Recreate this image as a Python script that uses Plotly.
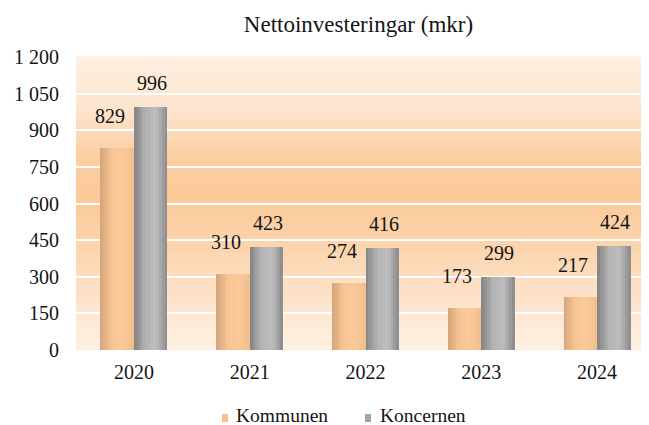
import plotly.graph_objects as go

years = ["2020", "2021", "2022", "2023", "2024"]
kommunen = [829, 310, 274, 173, 217]
koncernen = [996, 423, 416, 299, 424]
y_ticks = [0, 150, 300, 450, 600, 750, 900, 1050, 1200]

FONT = "Liberation Serif, DejaVu Serif, serif"
TXT = "#141414"

FIG_W, FIG_H = 649, 425
ML, MR, MT, MB = 68, 2, 49, 83
PW = FIG_W - ML - MR
PH = FIG_H - MT - MB


def px_x(fx):
    return (fx - ML) / PW


def px_y(fy):
    return (FIG_H - MB - fy) / PH


def lerp(c1, c2, t):
    return tuple(int(round(a + (b - a) * t)) for a, b in zip(c1, c2))


def rgb(c):
    return "rgb(%d,%d,%d)" % c


fig = go.Figure()

N = 12
W = 0.29
series = [
    dict(name="Kommunen", vals=kommunen, off=-W,
         stops=[(212, 164, 121), (246, 196, 148), (253, 203, 153), (240, 188, 140)],
         leg="rgb(246,192,140)", dx=-24, dy=32, sq=214, tx=226),
    dict(name="Koncernen", vals=koncernen, off=0.0,
         stops=[(130, 130, 130), (178, 178, 178), (190, 190, 190), (136, 136, 136)],
         leg="rgb(165,165,165)", dx=18, dy=24, sq=357, tx=370),
]

annotations = []
shapes = []

for s in series:
    for i in range(N):
        t = (i + 0.5) / N
        seg = t * (len(s["stops"]) - 1)
        k = min(int(seg), len(s["stops"]) - 2)
        col = lerp(s["stops"][k], s["stops"][k + 1], seg - k)
        fig.add_trace(go.Bar(
            x=years, y=s["vals"], width=W / N, offset=s["off"] + i * W / N,
            marker=dict(color=rgb(col), line=dict(width=0)),
            showlegend=False, hoverinfo="skip", name=s["name"],
        ))
    for idx, v in enumerate(s["vals"]):
        annotations.append(dict(
            x=idx, y=v, xref="x", yref="y", text=str(v), showarrow=False,
            xshift=s["dx"], yshift=s["dy"], xanchor="center", yanchor="middle",
            font=dict(family=FONT, size=20, color=TXT),
        ))
    # legend (manual)
    shapes.append(dict(type="rect", xref="paper", yref="paper",
                       x0=px_x(s["sq"]), x1=px_x(s["sq"] + 6),
                       y0=px_y(414), y1=px_y(406),
                       fillcolor=s["leg"], line=dict(width=0), layer="above"))
    annotations.append(dict(
        x=px_x(s["tx"]), y=px_y(407.5), xref="paper", yref="paper", text=s["name"],
        showarrow=False, xanchor="left", yanchor="middle",
        font=dict(family=FONT, size=19.5, color=TXT),
    ))

# vertical gradient of the plot area
bg_stops = [
    (0.0, (254, 241, 228)),
    (0.15, (253, 229, 206)),
    (0.35, (252, 212, 173)),
    (0.52, (251, 201, 152)),
    (0.65, (251, 206, 160)),
    (0.82, (252, 228, 205)),
    (1.0, (254, 240, 226)),
]
M = 80
for j in range(M):
    t = (j + 0.5) / M
    col = bg_stops[-1][1]
    for a in range(len(bg_stops) - 1):
        if bg_stops[a][0] <= t <= bg_stops[a + 1][0]:
            u = (t - bg_stops[a][0]) / (bg_stops[a + 1][0] - bg_stops[a][0])
            col = lerp(bg_stops[a][1], bg_stops[a + 1][1], u)
            break
    shapes.append(dict(type="rect", xref="paper", yref="paper", x0=0, x1=1,
                       y0=j / M, y1=(j + 1) / M + 0.002, fillcolor=rgb(col),
                       line=dict(width=0), layer="below"))

fig.update_layout(
    width=FIG_W, height=FIG_H,
    margin=dict(l=ML, r=MR, t=MT, b=MB, autoexpand=False),
    paper_bgcolor="white", plot_bgcolor="rgba(0,0,0,0)",
    barmode="overlay", bargap=0,
    shapes=shapes, annotations=annotations,
    separators=", ",
    showlegend=False,
    title=dict(text="Nettoinvesteringar (mkr)", x=350.5 / FIG_W, xanchor="center",
               y=1 - 16 / FIG_H, yanchor="middle",
               font=dict(family=FONT, size=23, color=TXT)),
    font=dict(family=FONT, size=20, color=TXT),
    xaxis=dict(type="category", categoryarray=years, range=[-0.5, len(years) - 0.5],
               autorange=False, showgrid=False, showline=False, ticks="",
               automargin=False, ticklabelstandoff=8,
               tickfont=dict(family=FONT, size=20, color=TXT)),
    yaxis=dict(range=[0, 1200], autorange=False, tickvals=y_ticks, tickformat=",d",
               showgrid=True, gridcolor="white", gridwidth=2, zeroline=False,
               showline=False, ticks="", ticklabelstandoff=16, automargin=False,
               tickfont=dict(family=FONT, size=20, color=TXT)),
)

fig.write_html("out.html")
